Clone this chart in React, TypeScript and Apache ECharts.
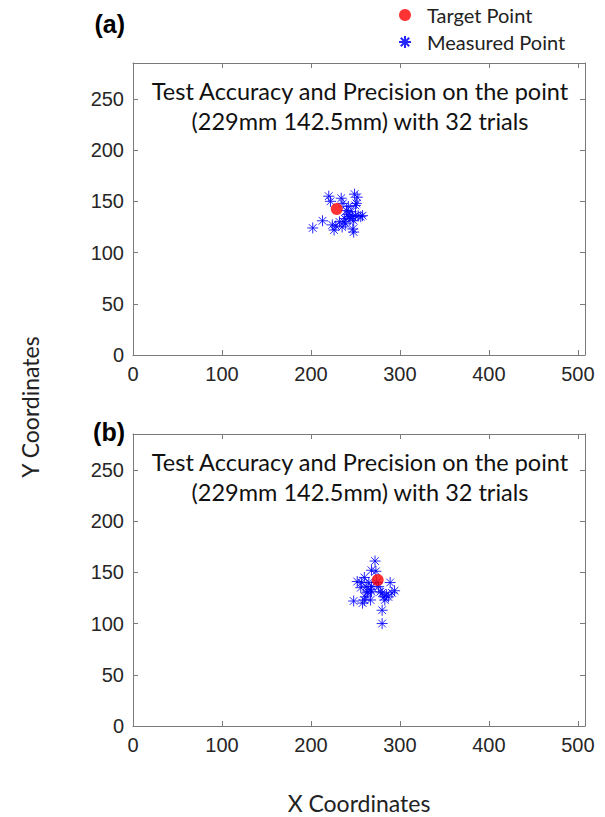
import React, { useEffect, useRef } from 'react';
import * as echarts from 'echarts';

const xTicks = [0, 100, 200, 300, 400, 500];
const yTicks = [0, 50, 100, 150, 200, 250];
const xRange = [0, 508];
const yRange = [0, 285];

const titleLines = ['Test Accuracy and Precision on the point', '(229mm 142.5mm) with 32 trials'];
const panelLabels = ['(a)', '(b)'];
const legendNames = ['Target Point', 'Measured Point'];

const targetA = [[229, 142.5]];
const measuredA = [
  [202, 124], [213, 131], [220, 155], [222, 150], [224, 127], [226, 122], [228, 126],
  [234, 153], [236, 148], [235, 125], [237, 130], [239, 128], [240, 141], [241, 137],
  [243, 135], [244, 133], [247, 135], [248, 131], [247, 123], [248, 120], [249, 157],
  [252, 154], [251, 148], [250, 146], [250, 136], [253, 136], [256, 135], [258, 136],
  [245, 140], [242, 145], [238, 133], [232, 130],
];

const targetB = [[275, 142.5]];
const measuredB = [
  [272, 161], [273, 151], [268, 152], [252, 141], [260, 145], [257, 140], [256, 135],
  [265, 140], [267, 133], [263, 130], [261, 126], [268, 131], [248, 122], [258, 120],
  [260, 123], [267, 123], [280, 130], [282, 126], [283, 123], [285, 128], [289, 140],
  [291, 130], [294, 132], [280, 113], [280, 100], [274, 140], [276, 136], [262, 136],
  [268, 136], [264, 131], [278, 131], [287, 126],
];

const STAR = 'path://M5,0L5,10M0,5L10,5M1.5,1.5L8.5,8.5M8.5,1.5L1.5,8.5';

export default function App() {
  const ref = useRef<HTMLDivElement>(null);
  useEffect(() => {
    document.body.style.margin = '0';
    const chart = echarts.init(ref.current!, null, { renderer: 'svg' });
    const grids = [
      { left: 133, top: 63, width: 452, height: 292 },
      { left: 133, top: 434, width: 452, height: 292 },
    ];
    const axisLineColor = '#7a7a7a';
    const labelFont = { fontFamily: 'Liberation Sans, Arial', fontSize: 20, color: '#262626' };
    const xAxes: any[] = [];
    const yAxes: any[] = [];
    grids.forEach((_, gi) => {
      ['bottom', 'top'].forEach((pos, k) => {
        xAxes.push({
          type: 'value', gridIndex: gi, position: pos, min: xRange[0], max: xRange[1],
          axisLine: { show: true, onZero: false, lineStyle: { color: axisLineColor, width: 1 } },
          axisTick: { show: true, inside: true, length: 5, customValues: xTicks, lineStyle: { color: axisLineColor } },
          axisLabel: { show: k === 0, customValues: xTicks, margin: 9, ...labelFont },
          splitLine: { show: false },
        });
      });
      ['left', 'right'].forEach((pos, k) => {
        yAxes.push({
          type: 'value', gridIndex: gi, position: pos, min: yRange[0], max: yRange[1],
          axisLine: { show: true, onZero: false, lineStyle: { color: axisLineColor, width: 1 } },
          axisTick: { show: true, inside: true, length: 5, customValues: yTicks, lineStyle: { color: axisLineColor } },
          axisLabel: { show: k === 0, customValues: yTicks, margin: 9, ...labelFont },
          splitLine: { show: false },
        });
      });
    });
    const mk = (gi: number, measured: number[][], target: number[][]) => [
      {
        name: legendNames[1], type: 'scatter', xAxisIndex: gi * 2, yAxisIndex: gi * 2,
        data: measured, symbol: STAR, symbolSize: 11,
        itemStyle: { color: '#0000ff', borderColor: '#0000ff', borderWidth: 1, opacity: 0.85 },
        z: 2,
      },
      {
        name: legendNames[0], type: 'scatter', xAxisIndex: gi * 2, yAxisIndex: gi * 2,
        data: target, symbol: 'circle', symbolSize: 12,
        itemStyle: { color: '#ff0000' },
        z: 3,
      },
    ];
    const fam = 'Lato, Open Sans, sans-serif';
    const graphics: any[] = [];
    const labelY = [24, 432];
    [63, 434].forEach((top, gi) => {
      graphics.push({
        type: 'text', x: 360, y: top + 13,
        style: { text: titleLines.join('\n'), fontFamily: fam, fontSize: 23.5, fill: '#111', lineHeight: 30, align: 'center', verticalAlign: 'top' },
      });
      graphics.push({
        type: 'text', x: 125, y: labelY[gi],
        style: { text: panelLabels[gi], fontFamily: 'Liberation Sans, Arial', fontWeight: 'bold', fontSize: 25, fill: '#000', align: 'right', verticalAlign: 'middle' },
      });
    });
    graphics.push({
      type: 'text', x: 359, y: 803,
      style: { text: 'X Coordinates', fontFamily: fam, fontSize: 23, fill: '#222', align: 'center', verticalAlign: 'middle' },
    });
    graphics.push({
      type: 'text', x: 30, y: 407, rotation: Math.PI / 2,
      style: { text: 'Y Coordinates', fontFamily: fam, fontSize: 23, fill: '#222', align: 'center', verticalAlign: 'middle' },
    });
    chart.setOption({
      animation: false,
      backgroundColor: '#ffffff',
      grid: grids,
      xAxis: xAxes,
      yAxis: yAxes,
      legend: {
        data: legendNames, orient: 'vertical', left: 398, top: 4, padding: 0,
        itemWidth: 12, itemHeight: 12, itemGap: 5,
        textStyle: { fontFamily: fam, fontSize: 20, color: '#222', padding: [0, 0, 0, 11], lineHeight: 22 },
      },
      series: [...mk(0, measuredA, targetA), ...mk(1, measuredB, targetB)],
      graphic: graphics,
    });
    return () => chart.dispose();
  }, []);
  return <div ref={ref} style={{ width: 605, height: 817 }} />;
}
